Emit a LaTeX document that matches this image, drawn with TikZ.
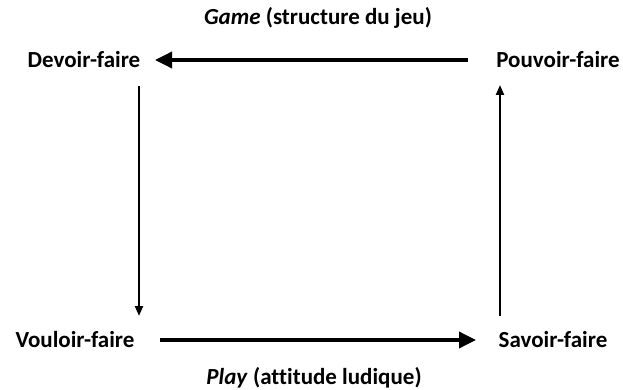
\documentclass[tikz,border=0pt]{standalone}
\usepackage{fontspec}
\setmainfont[Ligatures=NoCommon]{Carlito}
\usepackage{tikz}
\usetikzlibrary{arrows.meta}
\tikzset{
  etat/.style={font=\fontsize{23}{26}\selectfont\bfseries,inner sep=0pt},
  titre/.style={font=\fontsize{23}{26}\selectfont\bfseries,inner sep=0pt},
  grande/.style={line width=3.5pt,-{Triangle[length=17pt,width=16pt]}},
  petite/.style={line width=2.2pt,-{Triangle[length=10pt,width=8pt]}}
}
\begin{document}
\begin{tikzpicture}[x=1pt,y=-1pt]
      \useasboundingbox (0,0) rectangle (623,390);
      \node[titre] (game) at (318,18) {\textit{Game} (structure du jeu)};
      \node[etat] (devoir) at (84,60) {Devoir-faire};
      \node[etat] (pouvoir) at (558,60) {Pouvoir-faire};
      \node[etat] (vouloir) at (75,340) {Vouloir-faire};
      \node[etat] (savoir) at (553,340) {Savoir-faire};
      \node[titre] (play) at (314,378) {\textit{Play} (attitude ludique)};
      \coordinate (g1) at (468,60);
      \coordinate (g2) at (155,60);
      \coordinate (l1) at (160,340);
      \coordinate (l2) at (476,340);
      \coordinate (d1) at (139,86);
      \coordinate (d2) at (139,316);
      \coordinate (p1) at (500,316);
      \coordinate (p2) at (500,85);
      \begin{scope}
        \draw[grande] (g1) -- (g2);
        \draw[petite] (d1) -- (d2);
        \draw[grande] (l1) -- (l2);
        \draw[petite] (p1) -- (p2);
      \end{scope}
    \end{tikzpicture}
\end{document}
